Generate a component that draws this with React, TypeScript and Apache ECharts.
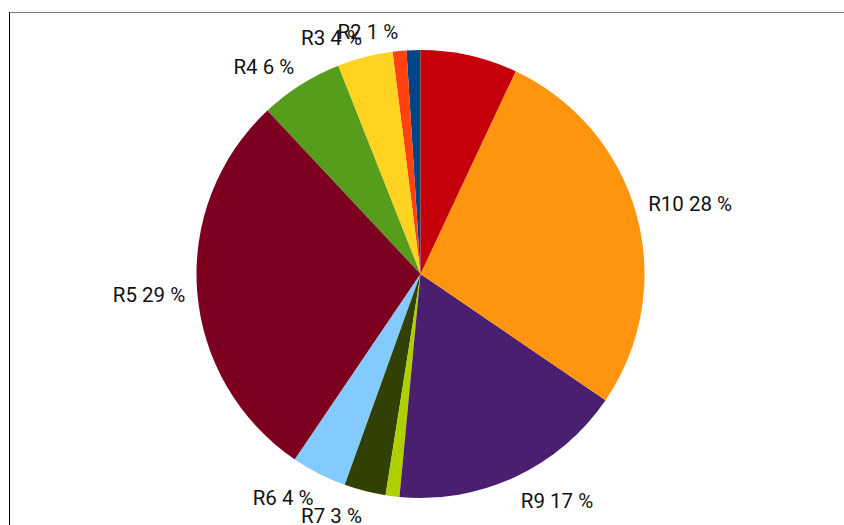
import React, { useEffect, useRef } from "react";
import * as echarts from "echarts";

const names = ["R1", "R2", "R3", "R4", "R5", "R6", "R7", "R8", "R9", "R10", "R11"];
const values = [1.0, 1.0, 4.0, 6.0, 28.6, 4.0, 3.0, 1.0, 17.0, 27.6, 7.0];
const colors = ["#004586", "#ff420e", "#ffd320", "#579d1c", "#7e0021", "#83caff", "#314004", "#aecf00", "#4b1f6f", "#ff950e", "#c5000b"];
const hiddenLabels = ["R1", "R8", "R11"];

const CX = 420.5;
const CY = 274;
const R = 224;
const LR = 236;

export default function App() {
  const ref = useRef<HTMLDivElement>(null);
  useEffect(() => {
    if (!ref.current) return;
    const chart = echarts.init(ref.current, null, { renderer: "svg" });
    const total = values.reduce((a, b) => a + b, 0);
    const option = {
      animation: false,
      backgroundColor: "#ffffff",
      graphic: [
        { type: "line", shape: { x1: 9, y1: 12.5, x2: 900, y2: 12.5 }, style: { stroke: "#7a7a7a", lineWidth: 1 } },
        { type: "line", shape: { x1: 9.5, y1: 12.5, x2: 9.5, y2: 600 }, style: { stroke: "#000000", lineWidth: 1 } },
      ],
      series: [
        {
          type: "pie",
          center: [CX, CY],
          radius: [0, R],
          startAngle: 90,
          clockwise: false,
          avoidLabelOverlap: false,
          label: {
            show: true,
            position: "outside",
            fontFamily: "Roboto, sans-serif",
            fontSize: 20.5,
            color: "#111111",
            formatter: (p: any) => `${p.name} ${Math.round((p.value / total) * 100)} %`,
          },
          labelLine: { show: false },
          labelLayout: (p: any) => {
            const i = p.dataIndex;
            let before = 0;
            for (let j = 0; j < i; j++) before += values[j];
            const mid = ((before + values[i] / 2) / total) * Math.PI * 2;
            const dx = -Math.sin(mid);
            const dy = -Math.cos(mid);
            return {
              x: CX + dx * LR,
              y: CY + 3 + dy * LR,
              align: dx < 0 ? "right" : "left",
              verticalAlign: Math.abs(dy) < 0.2 ? "middle" : dy < 0 ? "bottom" : "top",
            };
          },
          itemStyle: { borderWidth: 0 },
          emphasis: { disabled: true },
          data: names.map((n, i) => ({
            name: n,
            value: values[i],
            itemStyle: { color: colors[i] },
            label: hiddenLabels.includes(n) ? { show: false } : undefined,
          })),
        },
      ],
    };
    chart.setOption(option as any);
    return () => chart.dispose();
  }, []);
  return <div ref={ref} style={{ position: "fixed", left: 0, top: 0, width: 844, height: 525 }} />;
}
